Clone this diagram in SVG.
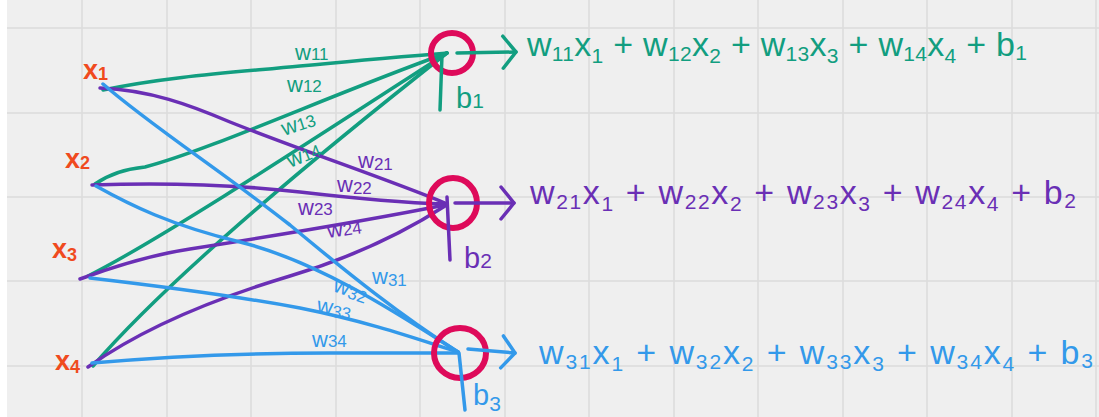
<svg xmlns="http://www.w3.org/2000/svg" width="1099" height="417" viewBox="0 0 1099 417">
<style>
.grid{stroke:#dcdcdc;stroke-width:1.5}
.c{fill:none;stroke-width:3.5;stroke-linecap:round;stroke-linejoin:round}
.g{stroke:#129e80}.p{stroke:#6a2fb5}.b{stroke:#3399ea}
.tg{fill:#129e80}.tp{fill:#6a2fb5}.tb{fill:#3399ea}
.ring{fill:none;stroke:#de0a5a;stroke-width:6}
.xl{fill:#f04a1e;font-family:"Liberation Sans",Arial,sans-serif;font-size:27px;font-weight:bold}
.wl{font-family:"Liberation Sans",Arial,sans-serif;font-size:22px}
.eq{font-family:"Liberation Sans",Arial,sans-serif;font-size:34px}
.bl{font-family:"Liberation Sans",Arial,sans-serif;font-size:29px}
.sub{font-size:21px}
.wsub{font-size:17px}
.xsub{font-size:18px}
</style>
<defs>
<marker id="chev" markerUnits="userSpaceOnUse" markerWidth="20" markerHeight="38" viewBox="0 0 20 38" refX="16" refY="19" orient="auto">
<path d="M3,3 L16,19 L3,35" fill="none" stroke="context-stroke" stroke-width="3.5" stroke-linecap="round" stroke-linejoin="round"/>
</marker>
</defs>
<rect x="0" y="0" width="1099" height="417" fill="#ffffff"/>
<rect x="7" y="0" width="1092" height="417" fill="#efefef"/>
<g id="grid" class="grid">
<path d="M82,0V417M167,0V417M251,0V417M336,0V417M420,0V417M505,0V417M589,0V417M674,0V417M758,0V417M843,0V417M927,0V417M1012,0V417M1096,0V417"/>
<path d="M7,28H1099M7,113H1099M7,197H1099M7,281H1099M7,366H1099"/>
</g>
<g id="connectors">
<path class="c g" d="M103,90 C170,76 240,72 300,66 C360,60 410,56 447,53"/>
<path class="c g" d="M95,184 Q115,170 145,167 C210,150 330,95 447,53"/>
<path class="c g" d="M88,276 C160,240 320,135 447,53"/>
<path class="c g" d="M93,366 C150,300 260,200 447,53"/>
<path class="c p" d="M100,88 C150,90 190,105 230,122 C300,150 390,180 445,203"/>
<path class="c p" d="M92,185 C150,183 220,183 300,192 C360,199 410,203 445,204"/>
<path class="c p" d="M80,279 C110,268 150,255 190,249 C260,238 360,222 445,205"/>
<path class="c p" d="M88,367 C140,330 210,300 290,276 C350,258 400,235 445,206"/>
<path class="c b" d="M103,84 C150,125 220,170 290,225 C350,275 400,315 458,352"/>
<path class="c b" d="M96,186 C130,205 170,225 240,242 C320,262 400,315 458,352"/>
<path class="c b" d="M90,278 C150,285 230,295 300,308 C370,322 420,340 458,352"/>
<path class="c b" d="M92,363 C160,357 250,353 330,353 C400,353 430,353 458,353"/>
<g id="weights" class="wl">
<text class="tg" x="295" y="60">w<tspan class="wsub">11</tspan></text>
<text class="tg" x="287" y="92">w<tspan class="wsub">12</tspan></text>
<text class="tg" x="284" y="136" transform="rotate(-18 284 136)">w<tspan class="wsub">13</tspan></text>
<text class="tg" x="290" y="168" transform="rotate(-22 290 168)">w<tspan class="wsub">14</tspan></text>
<text class="tp" x="358" y="168">w<tspan class="wsub" dy="2">21</tspan></text>
<text class="tp" x="337" y="192">w<tspan class="wsub" dy="2">22</tspan></text>
<text class="tp" x="298" y="215">w<tspan class="wsub">23</tspan></text>
<text class="tp" x="328" y="238" transform="rotate(-8 328 238)">w<tspan class="wsub">24</tspan></text>
<text class="tb" x="372" y="284">w<tspan class="wsub" dy="2">31</tspan></text>
<text class="tb" x="332" y="291" transform="rotate(18 332 291)">w<tspan class="wsub" dy="2">32</tspan></text>
<text class="tb" x="316" y="312" transform="rotate(10 316 312)">w<tspan class="wsub" dy="2">33</tspan></text>
<text class="tb" x="312" y="347">w<tspan class="wsub">34</tspan></text>
</g>
</g>
<g id="x1"><text class="xl" x="83" y="79">x<tspan class="xsub" dy="1">1</tspan></text></g>
<g id="x2"><text class="xl" x="65" y="168">x<tspan class="xsub" dy="1">2</tspan></text></g>
<g id="x3"><text class="xl" x="52" y="258">x<tspan class="xsub" dy="3">3</tspan></text></g>
<g id="x4"><text class="xl" x="55" y="370">x<tspan class="xsub" dy="3">4</tspan></text></g>
<g id="n1">
<ellipse class="ring" cx="452" cy="53" rx="21" ry="20"/>
<path class="c g" d="M442,55 L440,110"/>
<text class="bl tg" x="456" y="108">b<tspan class="sub">1</tspan></text>
<path class="c g" d="M457,53 L516,52" marker-end="url(#chev)"/>
<text class="eq tg" x="527" y="56" textLength="500" lengthAdjust="spacing">w<tspan class="sub" dy="5">11</tspan><tspan dy="-5">x</tspan><tspan class="sub" dy="7">1</tspan><tspan dy="-7"> + w</tspan><tspan class="sub" dy="5">12</tspan><tspan dy="-5">x</tspan><tspan class="sub" dy="7">2</tspan><tspan dy="-7"> + w</tspan><tspan class="sub" dy="5">13</tspan><tspan dy="-5">x</tspan><tspan class="sub" dy="7">3</tspan><tspan dy="-7"> + w</tspan><tspan class="sub" dy="5">14</tspan><tspan dy="-5">x</tspan><tspan class="sub" dy="7">4</tspan><tspan dy="-7"> + b</tspan><tspan class="sub" dy="4">1</tspan></text>
</g>
<g id="n2">
<ellipse class="ring" cx="453" cy="203" rx="24" ry="25"/>
<path class="c p" d="M447,197 L450,260"/>
<text class="bl tp" x="464" y="268">b<tspan class="sub">2</tspan></text>
<path class="c p" d="M455,203 L514,203" marker-end="url(#chev)"/>
<text class="eq tp" x="530" y="204" textLength="546" lengthAdjust="spacing">w<tspan class="sub" dy="5">21</tspan><tspan dy="-5">x</tspan><tspan class="sub" dy="7">1</tspan><tspan dy="-7"> + w</tspan><tspan class="sub" dy="5">22</tspan><tspan dy="-5">x</tspan><tspan class="sub" dy="7">2</tspan><tspan dy="-7"> + w</tspan><tspan class="sub" dy="5">23</tspan><tspan dy="-5">x</tspan><tspan class="sub" dy="7">3</tspan><tspan dy="-7"> + w</tspan><tspan class="sub" dy="5">24</tspan><tspan dy="-5">x</tspan><tspan class="sub" dy="7">4</tspan><tspan dy="-7"> + b</tspan><tspan class="sub" dy="4">2</tspan></text>
</g>
<g id="n3">
<ellipse class="ring" cx="460" cy="353" rx="26" ry="25"/>
<path class="c b" d="M459,353 L465,410"/>
<text class="bl tb" x="473" y="405">b<tspan class="sub" dy="6">3</tspan></text>
<path class="c b" d="M468,349 L515,353" marker-end="url(#chev)"/>
<text class="eq tb" x="539" y="364" textLength="554" lengthAdjust="spacing">w<tspan class="sub" dy="5">31</tspan><tspan dy="-5">x</tspan><tspan class="sub" dy="7">1</tspan><tspan dy="-7"> + w</tspan><tspan class="sub" dy="5">32</tspan><tspan dy="-5">x</tspan><tspan class="sub" dy="7">2</tspan><tspan dy="-7"> + w</tspan><tspan class="sub" dy="5">33</tspan><tspan dy="-5">x</tspan><tspan class="sub" dy="7">3</tspan><tspan dy="-7"> + w</tspan><tspan class="sub" dy="5">34</tspan><tspan dy="-5">x</tspan><tspan class="sub" dy="7">4</tspan><tspan dy="-7"> + b</tspan><tspan class="sub" dy="4">3</tspan></text>
</g>
</svg>
